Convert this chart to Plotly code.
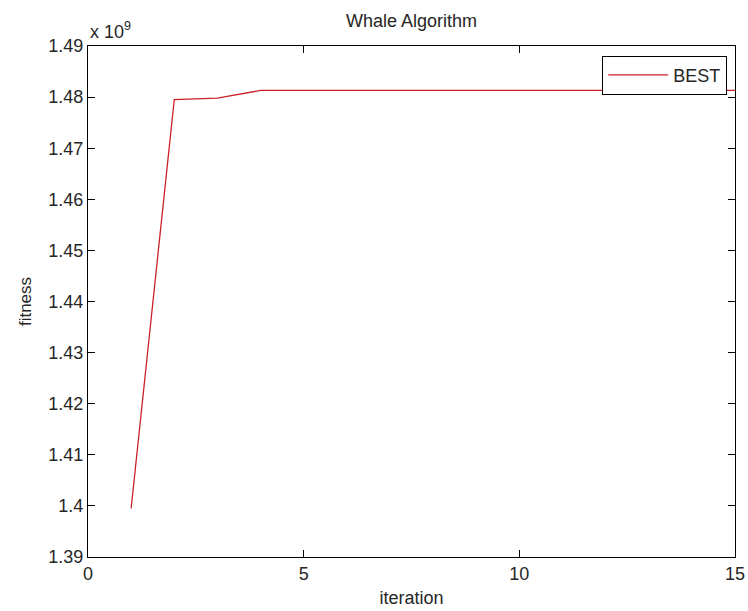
import plotly.graph_objects as go

# Best fitness per iteration of the whale optimisation run
iteration = [1, 2, 3, 4, 5, 6, 7, 8, 9, 10, 11, 12, 13, 14, 15]
fitness = [1.3995e9, 1.4795e9, 1.4798e9, 1.4813e9, 1.4813e9, 1.4813e9, 1.4813e9,
           1.4813e9, 1.4813e9, 1.4813e9, 1.4813e9, 1.4813e9, 1.4813e9, 1.4813e9, 1.4813e9]

scale = 1e9
x_ticks = [0, 5, 10, 15]
y_ticks = [1.39, 1.40, 1.41, 1.42, 1.43, 1.44, 1.45, 1.46, 1.47, 1.48, 1.49]
y_tick_text = ["1.39", "1.4", "1.41", "1.42", "1.43", "1.44", "1.45", "1.46", "1.47", "1.48", "1.49"]

FONT = "Liberation Sans, Arial, sans-serif"
TXT = "#262626"
W, H = 748, 611
L, R, T, B = 88, 13, 46, 54

fig = go.Figure()
fig.add_trace(go.Scatter(
    x=iteration,
    y=[v / scale for v in fitness],
    mode="lines",
    name="BEST",
    line=dict(color="#cc2028", width=1.3),
))

axis_common = dict(
    showline=True, linecolor="black", linewidth=1, mirror="ticks",
    ticks="inside", ticklen=7, tickcolor="black", tickwidth=1,
    showgrid=False, zeroline=False, automargin=False,
    tickfont=dict(family=FONT, size=18, color=TXT),
)

fig.update_layout(
    width=W, height=H,
    margin=dict(l=L, r=R, t=T, b=B),
    paper_bgcolor="white", plot_bgcolor="white",
    title=dict(text="Whale Algorithm",
               x=(L + (W - R)) / 2 / W, xanchor="center",
               y=1 - 21 / H, yanchor="middle",
               font=dict(family=FONT, size=18, color=TXT)),
    xaxis=dict(range=[0, 15], tickvals=x_ticks,
               title=dict(text="iteration", font=dict(family=FONT, size=18, color=TXT), standoff=8),
               **axis_common),
    yaxis=dict(range=[1.39, 1.49], tickvals=y_ticks, ticktext=y_tick_text,
               title=dict(text="fitness", font=dict(family=FONT, size=17, color=TXT), standoff=12),
               **axis_common),
    legend=dict(x=0.988, y=0.981, xanchor="right", yanchor="top",
                bgcolor="white", bordercolor="black", borderwidth=1,
                font=dict(family=FONT, size=18, color=TXT),
                itemwidth=60, tracegroupgap=0),
    showlegend=True,
)

fig.add_annotation(
    x=0, y=1, xref="paper", yref="paper", xanchor="left", yanchor="bottom",
    text="x 10<sup>9</sup>", showarrow=False, yshift=2,
    font=dict(family=FONT, size=18, color=TXT),
)

fig.write_html("out.html")
